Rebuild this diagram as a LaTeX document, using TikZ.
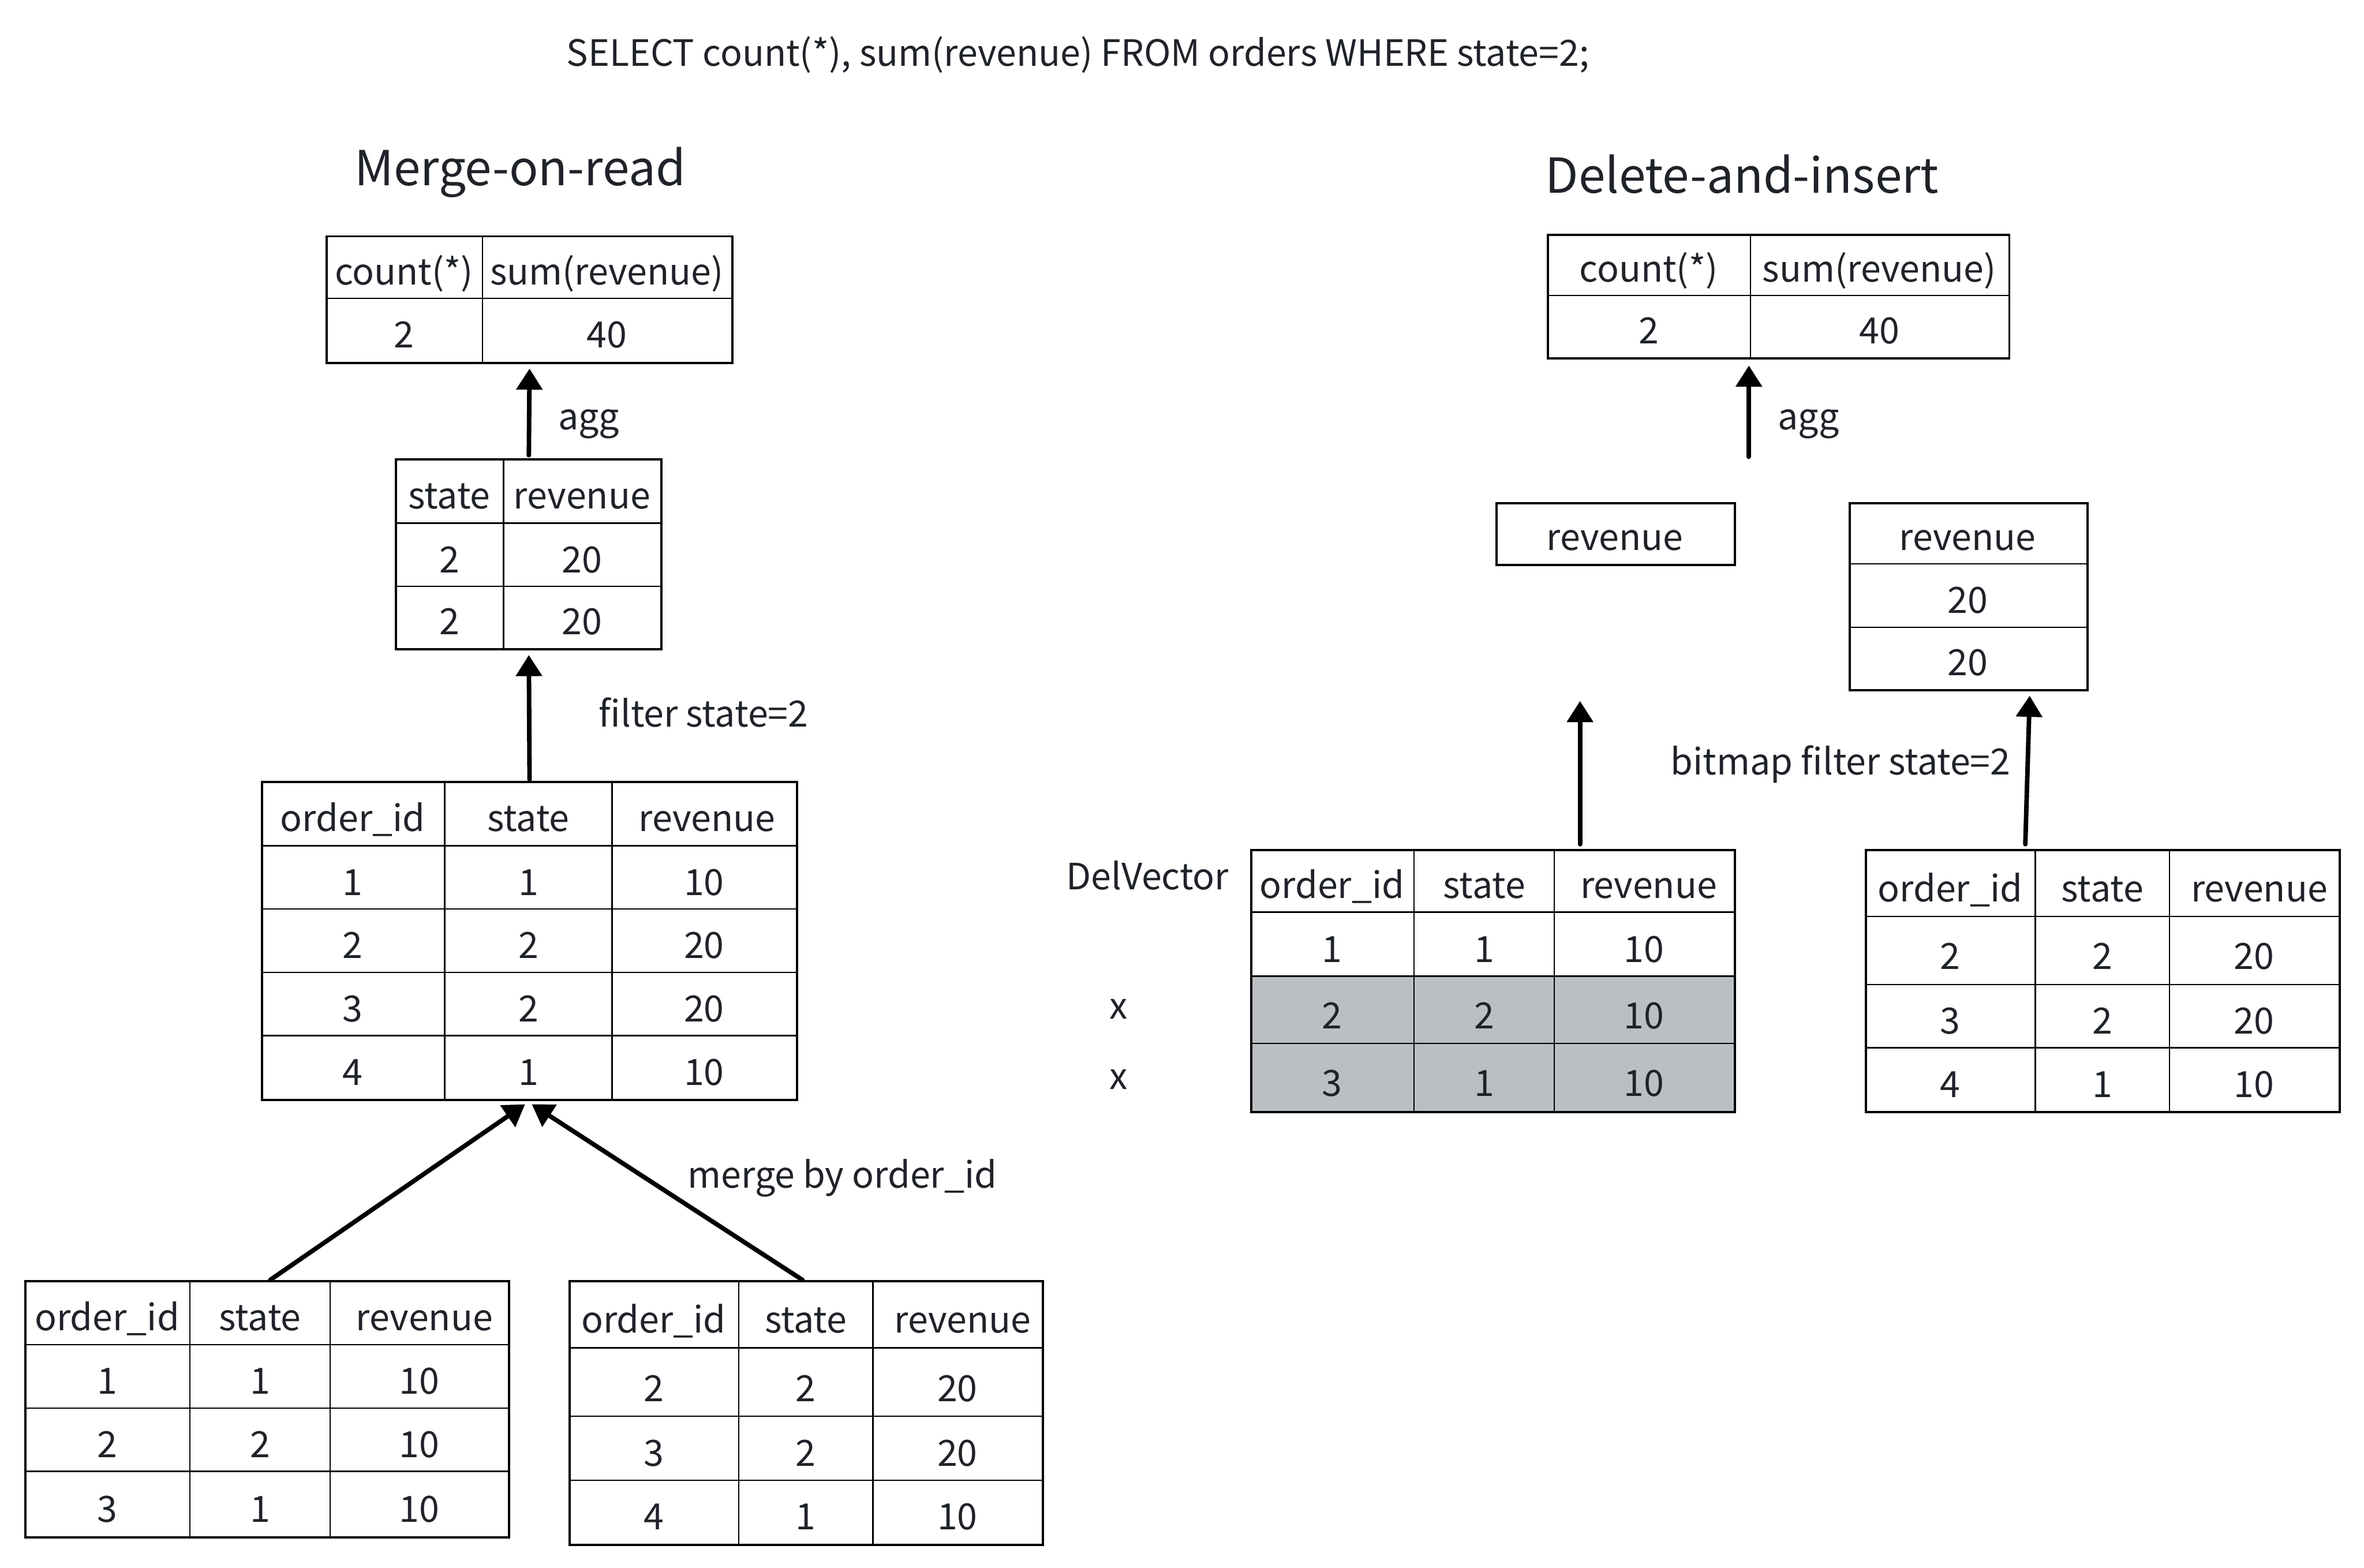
\documentclass[tikz,border=0pt]{standalone}
\usepackage{fontspec}
\setmainfont{Noto Sans CJK SC}
\usetikzlibrary{arrows.meta,calc}
\definecolor{ink}{HTML}{1F2329}
\definecolor{delgrey}{RGB}{187,191,196}
\tikzset{
  lbl/.style={text=ink, font=\fontsize{24}{28}\selectfont, inner sep=0pt, anchor=base},
  lblw/.style={lbl, anchor=base west},
  ttl/.style={lbl, font=\fontsize{32}{38}\selectfont},
  tbl/.style={draw=black, line width=1.5pt, inner sep=0pt, anchor=north west},
  gridline/.style={draw=black, line width=0.9pt},
  flow/.style={draw=black, line width=3pt, line cap=round, -{Triangle[length=14pt,width=17pt]}},
}
% frame: name, x0, y0, x1, y1
\newcommand{\tframe}[5]{\node[tbl, minimum width={(#4-#2)*1pt}, minimum height={(#5-#3)*1pt}] (#1) at (#2,#3) {};}
% cell text: name, xl, xr, yt, yb, text
\newcommand{\tcell}[6]{\node[lbl] (#1) at ({(#2+#3)/2},{#4+0.78*(#5-#4)}) {#6};}
\begin{document}
\begin{tikzpicture}[x=1pt,y=-1pt]
\fill[white] (0,0) rectangle (1568,1040);
\useasboundingbox (0,0) rectangle (1568,1040);

% ---- titles ----
\node[lbl] (sql) at (715,44) {SELECT count(*), sum(revenue) FROM orders WHERE state=2;};
\node[ttl] (mor) at (345,123) {Merge-on-read};
\node[ttl] (dai) at (1155.5,128) {Delete-and-insert};

% ---- Table A ----
\draw[gridline] (320,156) -- (320,240);
\draw[gridline] (216,198) -- (485,198);
\tframe{A}{216}{156}{485}{240}
\tcell{A11}{216}{320}{156}{198}{count(*)}
\tcell{A12}{320}{485}{156}{198}{sum(revenue)}
\tcell{A21}{216}{320}{198}{240}{2}
\tcell{A22}{320}{485}{198}{240}{40}

% ---- Table B ----
\draw[gridline] (334,304) -- (334,430);
\draw[gridline] (262,347) -- (438,347);
\draw[gridline] (262,389) -- (438,389);
\tframe{B}{262}{304}{438}{430}
\tcell{B11}{262}{334}{304}{347}{state}
\tcell{B12}{334}{438}{304}{347}{revenue}
\tcell{B21}{262}{334}{347}{389}{2}
\tcell{B22}{334}{438}{347}{389}{20}
\tcell{B31}{262}{334}{389}{430}{2}
\tcell{B32}{334}{438}{389}{430}{20}

% ---- Table C ----
\foreach \xx in {295,406} \draw[gridline] (\xx,518) -- (\xx,729);
\foreach \yy in {561,603,645,687} \draw[gridline] (173,\yy) -- (528,\yy);
\tframe{C}{173}{518}{528}{729}
\tcell{C11}{173}{295}{518}{561}{order\_id}
\tcell{C12}{295}{406}{518}{561}{state}
\tcell{C13}{410}{528}{518}{561}{revenue}
\tcell{C21}{173}{295}{561}{603}{1}
\tcell{C22}{295}{406}{561}{603}{1}
\tcell{C23}{406}{528}{561}{603}{10}
\tcell{C31}{173}{295}{603}{645}{2}
\tcell{C32}{295}{406}{603}{645}{2}
\tcell{C33}{406}{528}{603}{645}{20}
\tcell{C41}{173}{295}{645}{687}{3}
\tcell{C42}{295}{406}{645}{687}{2}
\tcell{C43}{406}{528}{645}{687}{20}
\tcell{C51}{173}{295}{687}{729}{4}
\tcell{C52}{295}{406}{687}{729}{1}
\tcell{C53}{406}{528}{687}{729}{10}

% ---- Table D ----
\foreach \xx in {126,219} \draw[gridline] (\xx,849) -- (\xx,1019);
\foreach \yy in {892,934,976} \draw[gridline] (16,\yy) -- (337,\yy);
\tframe{D}{16}{849}{337}{1019}
\tcell{D11}{16}{126}{849}{892}{order\_id}
\tcell{D12}{126}{219}{849}{892}{state}
\tcell{D13}{226}{337}{849}{892}{revenue}
\tcell{D21}{16}{126}{892}{934}{1}
\tcell{D22}{126}{219}{892}{934}{1}
\tcell{D23}{219}{337}{892}{934}{10}
\tcell{D31}{16}{126}{934}{976}{2}
\tcell{D32}{126}{219}{934}{976}{2}
\tcell{D33}{219}{337}{934}{976}{10}
\tcell{D41}{16}{126}{976}{1019}{3}
\tcell{D42}{126}{219}{976}{1019}{1}
\tcell{D43}{219}{337}{976}{1019}{10}

% ---- Table E ----
\foreach \xx in {490,579} \draw[gridline] (\xx,849) -- (\xx,1024);
\foreach \yy in {894,939.5,982} \draw[gridline] (377,\yy) -- (691,\yy);
\tframe{E}{377}{849}{691}{1024}
\tcell{E11}{377}{490}{849}{894}{order\_id}
\tcell{E12}{490}{579}{849}{894}{state}
\tcell{E13}{586}{691}{849}{894}{revenue}
\tcell{E21}{377}{490}{894}{939.5}{2}
\tcell{E22}{490}{579}{894}{939.5}{2}
\tcell{E23}{579}{691}{894}{939.5}{20}
\tcell{E31}{377}{490}{939.5}{982}{3}
\tcell{E32}{490}{579}{939.5}{982}{2}
\tcell{E33}{579}{691}{939.5}{982}{20}
\tcell{E41}{377}{490}{982}{1024}{4}
\tcell{E42}{490}{579}{982}{1024}{1}
\tcell{E43}{579}{691}{982}{1024}{10}

% ---- left labels ----
\node[lblw] (aggL) at (370,285) {agg};
\node[lblw] (filt) at (397,482) {filter state=2};
\node[lblw] (merge) at (456,788) {merge by order\_id};

% ---- left arrows ----
\draw[flow, shorten <=2pt, shorten >=3pt] (B.north) -- (A.south);
\draw[flow, shorten <=1pt, shorten >=3pt] (C.north) -- (B.south);
\draw[flow] ([xshift=2pt]D.north) -- ([xshift=-3pt,yshift=-2pt]C.south);
\draw[flow] ([xshift=-2.5pt]E.north) -- ([xshift=1.5pt,yshift=-2pt]C.south);

% ---- Table F ----
\draw[gridline] (1161,155) -- (1161,237);
\draw[gridline] (1026,196) -- (1332,196);
\tframe{F}{1026}{155}{1332}{237}
\tcell{F11}{1026}{1161}{155}{196}{count(*)}
\tcell{F12}{1161}{1332}{155}{196}{sum(revenue)}
\tcell{F21}{1026}{1161}{196}{237}{2}
\tcell{F22}{1161}{1332}{196}{237}{40}

% ---- Box G ----
\tframe{G}{992}{333}{1150}{374}
\tcell{G11}{992}{1150}{333}{374}{revenue}

% ---- Table H ----
\draw[gridline] (1226,374) -- (1384,374);
\draw[gridline] (1226,416) -- (1384,416);
\tframe{H}{1226}{333}{1384}{457}
\tcell{H11}{1226}{1384}{333}{374}{revenue}
\tcell{H21}{1226}{1384}{374}{416}{20}
\tcell{H31}{1226}{1384}{416}{457}{20}

% ---- Table I (with DelVector) ----
\fill[delgrey] (829,647.5) rectangle (1150,737);
\foreach \xx in {938,1031} \draw[gridline] (\xx,563) -- (\xx,737);
\foreach \yy in {605,647.5,692} \draw[gridline] (829,\yy) -- (1150,\yy);
\tframe{I}{829}{563}{1150}{737}
\tcell{I11}{829}{938}{563}{605}{order\_id}
\tcell{I12}{938}{1031}{563}{605}{state}
\tcell{I13}{1037}{1150}{563}{605}{revenue}
\tcell{I21}{829}{938}{605}{647.5}{1}
\tcell{I22}{938}{1031}{605}{647.5}{1}
\tcell{I23}{1031}{1150}{605}{647.5}{10}
\tcell{I31}{829}{938}{647.5}{692}{2}
\tcell{I32}{938}{1031}{647.5}{692}{2}
\tcell{I33}{1031}{1150}{647.5}{692}{10}
\tcell{I41}{829}{938}{692}{737}{3}
\tcell{I42}{938}{1031}{692}{737}{1}
\tcell{I43}{1031}{1150}{692}{737}{10}

% ---- Table J ----
\foreach \xx in {1350,1439} \draw[gridline] (\xx,563) -- (\xx,737);
\foreach \yy in {608,653,695} \draw[gridline] (1237,\yy) -- (1551,\yy);
\tframe{J}{1237}{563}{1551}{737}
\tcell{J11}{1237}{1350}{563}{608}{order\_id}
\tcell{J12}{1350}{1439}{563}{608}{state}
\tcell{J13}{1446}{1551}{563}{608}{revenue}
\tcell{J21}{1237}{1350}{608}{653}{2}
\tcell{J22}{1350}{1439}{608}{653}{2}
\tcell{J23}{1439}{1551}{608}{653}{20}
\tcell{J31}{1237}{1350}{653}{695}{3}
\tcell{J32}{1350}{1439}{653}{695}{2}
\tcell{J33}{1439}{1551}{653}{695}{20}
\tcell{J41}{1237}{1350}{695}{737}{4}
\tcell{J42}{1350}{1439}{695}{737}{1}
\tcell{J43}{1439}{1551}{695}{737}{10}

% ---- right labels ----
\node[lblw] (aggR) at (1179,285) {agg};
\node[lblw] (bmf) at (1108,514) {bitmap filter state=2};
\node[lblw] (dv) at (707,590) {DelVector};
\node[lbl] (x1) at (742,676) {x};
\node[lbl] (x2) at (742,722.5) {x};

% ---- right arrows ----
\coordinate (aggsrc) at (1160,303);
\draw[flow, shorten >=4pt] (aggsrc) -- (aggsrc |- F.south);
\coordinate (dvtip) at (1048,465);
\draw[flow, shorten <=3pt] (I.north -| dvtip) -- (dvtip);
\draw[flow, shorten <=3pt] ([xshift=-51.5pt]J.north) -- ([xshift=40.5pt,yshift=-3pt]H.south);
\end{tikzpicture}
\end{document}
